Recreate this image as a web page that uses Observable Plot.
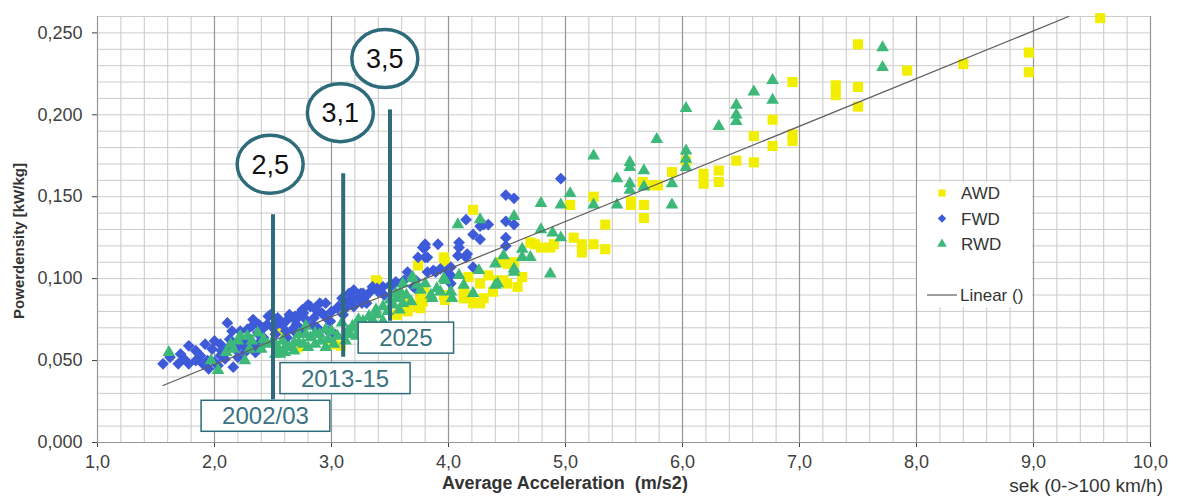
<!DOCTYPE html>
<html><head><meta charset="utf-8">
<script src="https://cdn.jsdelivr.net/npm/d3@7"></script>
<script src="https://cdn.jsdelivr.net/npm/@observablehq/plot@0.6"></script>
<style>html,body{margin:0;padding:0;background:#fff;} #chart{width:1184px;height:496px;}</style>
</head><body><div id="chart"></div>
<script>
// ---- tick labels ----
const xTicks = [1, 2, 3, 4, 5, 6, 7, 8, 9, 10];
const yTicks = [0, 0.05, 0.10, 0.15, 0.20, 0.25];

// ---- series: [acceleration m/s2, powerdensity kW/kg] ----
const awd = [
  [9.57,0.259],[8.96,0.238],[8.96,0.226],[8.40,0.231],[7.92,0.227],[7.50,0.243],[7.50,0.217],[7.50,0.205],
  [7.31,0.218],[7.31,0.212],[6.94,0.220],[6.94,0.188],[6.94,0.184],[6.77,0.197],[6.77,0.181],[6.61,0.187],
  [6.61,0.171],[6.46,0.172],[6.31,0.166],[6.31,0.159],[6.18,0.164],[6.18,0.158],[6.03,0.172],[5.91,0.165],
  [5.79,0.157],[5.66,0.159],[5.24,0.150],[5.56,0.145],[5.67,0.145],[5.04,0.145],[5.56,0.147],[5.67,0.137],
  [5.34,0.133],[5.75,0.157],[5.07,0.125],[5.14,0.121],[5.14,0.116],[5.24,0.121],[5.34,0.118],[4.70,0.122],
  [4.79,0.119],[4.87,0.119],[4.90,0.121],[4.74,0.121],[4.21,0.142],[3.96,0.113],[3.97,0.110],[3.74,0.108],
  [4.56,0.110],[4.44,0.110],[4.51,0.109],[4.34,0.102],[4.42,0.099],[4.47,0.099],[4.50,0.097],[4.59,0.095],
  [4.63,0.101],[4.27,0.097],[4.17,0.101],[4.13,0.088],[4.21,0.085],[4.27,0.085],[4.30,0.088],[4.38,0.092],
  [3.97,0.087],[3.96,0.090],[3.76,0.085],[3.76,0.082],[3.76,0.090],[3.65,0.082],[3.38,0.099],[3.74,0.083],
  [3.78,0.086],[3.61,0.089],[2.72,0.059],[2.56,0.068],[2.71,0.060],[2.99,0.060],[3.08,0.059],[3.56,0.078],
  [3.65,0.080],[3.76,0.088],[3.79,0.094],[4.13,0.092],[4.19,0.090],[3.39,0.098],[3.02,0.060],[2.71,0.058]
];
const fwd = [
  [1.56,0.048],[1.62,0.052],[1.69,0.048],[1.71,0.054],[1.74,0.051],[1.78,0.059],[1.78,0.048],[1.84,0.056],
  [1.84,0.050],[1.88,0.053],[1.90,0.048],[1.92,0.060],[1.94,0.050],[1.95,0.045],[1.98,0.057],[2.00,0.049],
  [2.00,0.062],[2.03,0.047],[2.05,0.053],[2.05,0.060],[2.06,0.056],[2.09,0.051],[2.11,0.073],[2.12,0.058],
  [2.13,0.063],[2.15,0.068],[2.16,0.046],[2.18,0.057],[2.20,0.058],[2.20,0.052],[2.22,0.068],[2.24,0.060],
  [2.25,0.062],[2.26,0.055],[2.28,0.069],[2.29,0.064],[2.31,0.058],[2.32,0.071],[2.33,0.075],[2.35,0.055],
  [2.37,0.067],[2.37,0.060],[2.38,0.072],[2.39,0.065],[2.41,0.060],[2.42,0.070],[2.42,0.064],[2.45,0.072],
  [2.46,0.077],[2.48,0.078],[2.50,0.070],[2.52,0.066],[2.54,0.076],[2.55,0.073],[2.58,0.072],[2.61,0.074],
  [2.61,0.068],[2.62,0.064],[2.64,0.078],[2.67,0.076],[2.68,0.070],[2.68,0.068],[2.69,0.077],[2.70,0.072],
  [2.71,0.076],[2.72,0.078],[2.74,0.069],[2.75,0.081],[2.76,0.079],[2.78,0.075],[2.80,0.084],[2.82,0.083],
  [2.84,0.072],[2.85,0.076],[2.86,0.082],[2.88,0.080],[2.88,0.070],[2.90,0.085],[2.92,0.079],[2.93,0.078],
  [2.95,0.085],[2.97,0.075],[2.97,0.068],[2.99,0.074],[3.00,0.080],[3.03,0.066],[3.05,0.082],[3.06,0.083],
  [3.09,0.088],[3.10,0.078],[3.12,0.082],[3.14,0.086],[3.15,0.091],[3.17,0.088],[3.19,0.093],[3.19,0.083],
  [3.22,0.088],[3.25,0.091],[3.26,0.085],[3.27,0.091],[3.29,0.089],[3.30,0.085],[3.33,0.092],[3.35,0.095],
  [3.39,0.094],[3.40,0.092],[3.44,0.095],[3.45,0.090],[3.50,0.096],[3.52,0.096],[3.55,0.098],[3.62,0.099],
  [3.65,0.104],[3.70,0.095],[3.72,0.099],[3.72,0.094],[3.74,0.113],[3.78,0.119],[3.80,0.121],[3.80,0.119],
  [3.80,0.113],[3.82,0.113],[3.82,0.104],[3.87,0.105],[3.89,0.104],[3.91,0.121],[3.93,0.106],[3.99,0.105],
  [4.02,0.107],[4.02,0.102],[4.02,0.097],[4.08,0.114],[4.09,0.122],[4.09,0.119],[4.15,0.113],[4.15,0.136],
  [4.16,0.115],[4.21,0.127],[4.21,0.107],[4.27,0.132],[4.27,0.124],[4.30,0.133],[4.34,0.133],[4.49,0.151],
  [4.56,0.149],[4.49,0.135],[4.56,0.133],[4.49,0.125],[4.49,0.120],[4.96,0.161]
];
const rwd = [
  [1.61,0.055],[1.97,0.050],[2.03,0.044],[2.10,0.055],[2.14,0.060],[2.16,0.057],[2.20,0.062],[2.22,0.065],
  [2.26,0.050],[2.28,0.065],[2.30,0.057],[2.32,0.062],[2.37,0.067],[2.40,0.057],[2.42,0.063],[2.45,0.060],
  [2.50,0.062],[2.52,0.054],[2.54,0.058],[2.56,0.054],[2.58,0.062],[2.60,0.055],[2.61,0.059],[2.64,0.058],
  [2.68,0.061],[2.68,0.056],[2.72,0.061],[2.72,0.066],[2.76,0.060],[2.78,0.066],[2.78,0.071],[2.80,0.058],
  [2.82,0.064],[2.86,0.067],[2.86,0.060],[2.90,0.066],[2.91,0.062],[2.95,0.069],[2.95,0.058],[2.97,0.063],
  [3.00,0.068],[3.02,0.060],[3.05,0.065],[3.09,0.073],[3.12,0.062],[3.14,0.068],[3.16,0.066],[3.18,0.071],
  [3.21,0.065],[3.22,0.070],[3.23,0.075],[3.27,0.074],[3.28,0.072],[3.32,0.077],[3.33,0.070],[3.35,0.075],
  [3.38,0.081],[3.39,0.078],[3.44,0.083],[3.44,0.074],[3.48,0.080],[3.50,0.087],[3.53,0.084],[3.55,0.091],
  [3.56,0.088],[3.58,0.081],[3.59,0.092],[3.61,0.097],[3.61,0.085],[3.64,0.090],[3.68,0.086],[3.69,0.101],
  [3.70,0.100],[3.73,0.096],[3.76,0.093],[3.80,0.097],[3.85,0.090],[3.86,0.088],[3.90,0.094],[3.93,0.092],
  [3.96,0.100],[3.97,0.099],[4.02,0.092],[4.03,0.088],[4.08,0.133],[4.09,0.102],[4.13,0.096],[4.21,0.091],
  [4.26,0.105],[4.27,0.136],[4.40,0.109],[4.40,0.096],[4.42,0.097],[4.47,0.114],[4.56,0.138],[4.56,0.106],
  [4.56,0.104],[4.63,0.118],[4.63,0.113],[4.70,0.113],[4.79,0.146],[4.79,0.130],[4.87,0.103],[4.89,0.128],
  [4.96,0.125],[4.96,0.145],[5.04,0.152],[5.24,0.175],[5.24,0.145],[5.44,0.161],[5.44,0.145],[5.55,0.171],
  [5.55,0.168],[5.55,0.158],[5.55,0.154],[5.67,0.166],[5.67,0.156],[5.78,0.185],[5.91,0.158],[5.91,0.145],
  [6.03,0.204],[6.03,0.178],[6.03,0.173],[6.03,0.168],[6.31,0.193],[6.46,0.206],[6.46,0.200],[6.46,0.196],
  [6.61,0.214],[6.77,0.221],[6.77,0.209],[7.71,0.241],[7.71,0.229]
];

// ---- linear trend (endpoints) ----
const trendX = [1.56, 9.30];
const trendY = [0.0348, 0.260];

// ---- annotations ----
const annotX = [2.5, 3.1, 3.5];
const annotTop = [0.139, 0.164, 0.203];
const annotBottom = [0.026, 0.052, 0.074];
const bubbleLabels = ["2,5", "3,1", "3,5"];
const bubbleX = [2.48, 3.08, 3.46];
const bubbleY = [0.1695, 0.201, 0.234];
const yearLabels = ["2002/03", "2013-15", "2025"];
const yearX = [2.44, 3.12, 3.64];
const yearY = [0.016, 0.039, 0.0637];

const seriesNames = ["AWD", "FWD", "RWD"];
const seriesColors = ["#f2ee00", "#3d5bd9", "#3cb878"];
const seriesSymbols = ["square", "diamond2", "triangle"];
const seriesR = [5.7, 5.3, 4.7];

const teal = "#2e6c7c";
const fmtX = d => d.toFixed(1).replace(".", ",");
const fmtY = d => d.toFixed(3).replace(".", ",");

const xMinor = d3.range(0, 46).map(i => 1 + i * 0.2);
const yMinor = d3.range(0, 27).map(i => i * 0.01);

const seriesData = [awd, fwd, rwd];
const annots = annotX.map((x, i) => ({x, y1: annotBottom[i], y2: annotTop[i]}));

const plot = Plot.plot({
  width: 1184, height: 496,
  marginLeft: 97, marginRight: 34, marginTop: 16, marginBottom: 54,
  style: {fontFamily: "'Liberation Sans', Arial, sans-serif", fontSize: "18px", color: "#404040", background: "#fff", overflow: "visible"},
  x: {domain: [1, 10], ticks: xTicks, tickFormat: fmtX, label: null, tickSize: 5, tickPadding: 8},
  y: {domain: [0, 0.26], ticks: yTicks, tickFormat: fmtY, label: null, tickSize: 5, tickPadding: 10},
  marks: [
    Plot.ruleX(xMinor, {x: d => d, stroke: "#c9c9c9", strokeWidth: 1}),
    Plot.ruleY(yMinor, {y: d => d, stroke: "#cccccc", strokeWidth: 1}),
    Plot.ruleX(xTicks, {x: d => d, stroke: "#959595", strokeWidth: 1.2}),
    Plot.ruleY([0], {stroke: "#959595", strokeWidth: 1.2}),
    ...seriesData.map((data, i) => Plot.dot(data, {
      x: d => d[0], y: d => d[1], symbol: seriesSymbols[i], r: seriesR[i],
      fill: seriesColors[i], stroke: "none"
    })),
    Plot.line(trendX.map((x, i) => ({x, y: trendY[i]})), {x: "x", y: "y", stroke: "#5e5e5e", strokeWidth: 1.3}),
    Plot.ruleX(annots, {x: "x", y1: "y1", y2: "y2", stroke: teal, strokeWidth: 4})
  ]
});
document.getElementById("chart").appendChild(plot);

const svg = d3.select(plot);
const sx = plot.scale("x"), sy = plot.scale("y");
const font = "'Liberation Sans', Arial, sans-serif";

// bubbles
bubbleLabels.forEach((lab, i) => {
  const cx = sx.apply(bubbleX[i]), cy = sy.apply(bubbleY[i]);
  svg.append("ellipse").attr("cx", cx).attr("cy", cy).attr("rx", 33).attr("ry", 29)
    .attr("fill", "#fff").attr("stroke", teal).attr("stroke-width", 3.5);
  svg.append("text").attr("x", cx).attr("y", cy).attr("dy", "0.36em").attr("text-anchor", "middle")
    .attr("font-family", font).attr("font-size", 27).attr("fill", "#111").text(lab);
});

// year boxes
yearLabels.forEach((lab, i) => {
  const cx = sx.apply(yearX[i]), cy = sy.apply(yearY[i]);
  const g = svg.append("g");
  const rect = g.append("rect");
  const t = g.append("text").attr("x", cx).attr("y", cy).attr("dy", "0.36em").attr("text-anchor", "middle")
    .attr("font-family", font).attr("font-size", 24).attr("fill", "#3a7282").text(lab);
  const w = t.node().getComputedTextLength() + 42;
  rect.attr("x", cx - w / 2).attr("y", cy - 15.5).attr("width", w).attr("height", 31)
    .attr("fill", "#fff").attr("stroke", teal).attr("stroke-width", 1.5);
});

// legend
const lg = svg.append("g").attr("font-family", font).attr("font-size", 17).attr("fill", "#333").attr("text-anchor", "start");
lg.append("rect").attr("x", 917).attr("y", 182).attr("width", 115).attr("height", 125).attr("fill", "#fff");
seriesNames.forEach((name, i) => {
  const y = 193 + i * 25.5;
  const sym = {square: d3.symbolSquare, diamond2: d3.symbolDiamond2, triangle: d3.symbolTriangle}[seriesSymbols[i]];
  lg.append("path").attr("transform", `translate(942,${y})`)
    .attr("d", d3.symbol(sym, [50, 45, 40][i])()).attr("fill", seriesColors[i]);
  lg.append("text").attr("x", 961).attr("y", y).attr("dy", "0.36em").attr("text-anchor", "start").text(name);
});
lg.append("line").attr("x1", 927).attr("x2", 957).attr("y1", 295).attr("y2", 295).attr("stroke", "#6a6a6a").attr("stroke-width", 1.3);
lg.append("text").attr("x", 960).attr("y", 295).attr("dy", "0.36em").attr("text-anchor", "start").text("Linear ()");

// axis titles
svg.append("text").attr("x", 565).attr("y", 489).attr("text-anchor", "middle")
  .attr("font-family", font).attr("font-size", 18).attr("font-weight", "bold").attr("fill", "#333")
  .text("Average Acceleration\u00a0 (m/s2)");
svg.append("text").attr("x", 1163).attr("y", 492).attr("text-anchor", "end")
  .attr("font-family", font).attr("font-size", 19).attr("fill", "#333")
  .text("sek (0->100 km/h)");
svg.append("text").attr("transform", "translate(24,241) rotate(-90)").attr("text-anchor", "middle")
  .attr("font-family", font).attr("font-size", 15).attr("font-weight", "bold").attr("fill", "#333")
  .text("Powerdensity [kW/kg]");
</script>
</body></html>
